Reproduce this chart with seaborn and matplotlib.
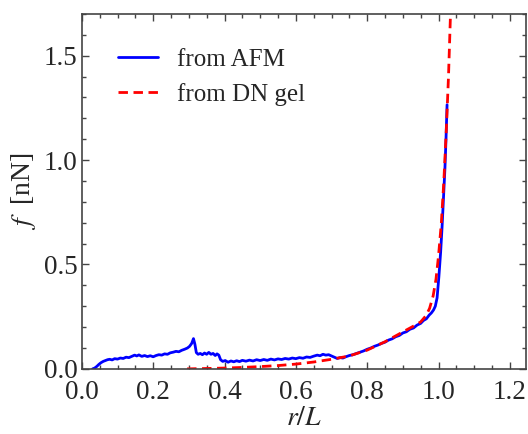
import numpy as np
import pandas as pd
import matplotlib
matplotlib.use("Agg")
import matplotlib.pyplot as plt
from matplotlib.ticker import MultipleLocator
import seaborn as sns

# donnees
afm_x = [0.030, 0.036, 0.042, 0.048, 0.054, 0.060, 0.066, 0.072, 0.078, 0.085, 0.092, 0.100,
         0.108, 0.116, 0.124, 0.132, 0.140, 0.148, 0.154, 0.160, 0.168, 0.176, 0.184, 0.192,
         0.200, 0.208, 0.216, 0.224, 0.232, 0.240, 0.248, 0.256, 0.264, 0.272, 0.280, 0.288,
         0.296, 0.302, 0.308, 0.313, 0.317, 0.321, 0.326, 0.332, 0.338, 0.344, 0.350, 0.356,
         0.362, 0.368, 0.374, 0.379, 0.384, 0.389, 0.395, 0.402, 0.410, 0.418, 0.426, 0.434,
         0.442, 0.450, 0.460, 0.470, 0.480, 0.490, 0.500, 0.510, 0.520, 0.530, 0.540, 0.550,
         0.560, 0.570, 0.580, 0.590, 0.600, 0.610, 0.620, 0.630, 0.640, 0.650, 0.660, 0.668,
         0.676, 0.684, 0.692, 0.700, 0.708, 0.716, 0.724, 0.732, 0.740, 0.750, 0.760, 0.770,
         0.780, 0.790, 0.800, 0.810, 0.820, 0.830, 0.840, 0.850, 0.860, 0.870, 0.880, 0.890,
         0.900, 0.910, 0.920, 0.930, 0.940, 0.950, 0.958, 0.966, 0.974, 0.980, 0.986, 0.991,
         0.996, 1.001, 1.006, 1.010, 1.014, 1.018, 1.021, 1.024]
afm_y = [0.000, 0.004, 0.012, 0.022, 0.030, 0.036, 0.040, 0.044, 0.046, 0.043, 0.049, 0.047,
         0.052, 0.050, 0.056, 0.054, 0.060, 0.066, 0.062, 0.067, 0.060, 0.064, 0.059, 0.063,
         0.058, 0.064, 0.068, 0.066, 0.072, 0.070, 0.077, 0.080, 0.084, 0.082, 0.089, 0.094,
         0.100, 0.108, 0.122, 0.145, 0.118, 0.078, 0.070, 0.074, 0.068, 0.076, 0.070, 0.079,
         0.070, 0.074, 0.064, 0.072, 0.066, 0.044, 0.036, 0.040, 0.032, 0.038, 0.034, 0.039,
         0.035, 0.041, 0.037, 0.042, 0.038, 0.044, 0.040, 0.045, 0.041, 0.047, 0.043, 0.048,
         0.045, 0.050, 0.047, 0.052, 0.049, 0.054, 0.051, 0.057, 0.055, 0.061, 0.066, 0.063,
         0.070, 0.066, 0.068, 0.062, 0.056, 0.050, 0.054, 0.052, 0.058, 0.064, 0.068, 0.074,
         0.080, 0.086, 0.094, 0.100, 0.108, 0.114, 0.122, 0.128, 0.138, 0.144, 0.154, 0.160,
         0.172, 0.178, 0.190, 0.196, 0.210, 0.218, 0.232, 0.240, 0.258, 0.268, 0.282, 0.300,
         0.340, 0.440, 0.560, 0.680, 0.820, 0.960, 1.100, 1.265]

dn_x = [0.295, 0.320, 0.350, 0.400, 0.450, 0.500, 0.550, 0.600, 0.650, 0.700, 0.750, 0.800,
        0.850, 0.900, 0.930, 0.950, 0.965, 0.975, 0.985, 0.993, 1.000, 1.008, 1.015, 1.022,
        1.028, 1.034]
dn_y = [0.000, 0.001, 0.002, 0.004, 0.007, 0.011, 0.016, 0.023, 0.033, 0.046, 0.062, 0.090,
        0.130, 0.177, 0.205, 0.225, 0.255, 0.290, 0.350, 0.430, 0.540, 0.700, 0.900, 1.150,
        1.400, 1.720]

sns.set_style("ticks")
plt.rcParams['font.family'] = ['Liberation Serif', 'DejaVu Serif']
plt.rcParams['mathtext.fontset'] = 'stix'

fig = plt.figure(figsize=(5.28, 4.34), dpi=100)
ax = fig.add_axes([0.155, 0.150, 0.841, 0.818])

sns.lineplot(x=afm_x, y=afm_y, ax=ax, color=(0, 0, 1), lw=2.0, sort=False,
             estimator=None, label="from AFM")
sns.lineplot(x=dn_x, y=dn_y, ax=ax, color=(1, 0, 0), lw=2.0, sort=False,
             estimator=None, label="from DN gel", dashes=False)
ax.lines[-1].set_dashes([3.4, 2.0])
ax.get_legend().remove()
leg = ax.legend(loc="upper left", frameon=False, fontsize=18, handlelength=1.6,
                borderaxespad=0.0, bbox_to_anchor=(0.06, 0.932), labelspacing=0.5,
                handletextpad=0.75)

ax.set_xlim(0, 1.245)
ax.set_ylim(0, 1.70)
ax.xaxis.set_major_locator(MultipleLocator(0.2))
ax.xaxis.set_minor_locator(MultipleLocator(0.05))
ax.yaxis.set_major_locator(MultipleLocator(0.5))
ax.yaxis.set_minor_locator(MultipleLocator(0.1))
ax.xaxis.set_major_formatter(matplotlib.ticker.FormatStrFormatter('%.1f'))
ax.yaxis.set_major_formatter(matplotlib.ticker.FormatStrFormatter('%.1f'))
ax.tick_params(which="both", direction="in", top=True, right=True, labelsize=19.5,
               color="#444444", width=1)
ax.tick_params(which="major", length=5, pad=3)
ax.tick_params(axis="x", which="major", pad=8)
ax.tick_params(which="minor", length=3)
for s in ax.spines.values():
    s.set_color("#444444")
    s.set_linewidth(1.2)

ax.set_xlabel(r"$r/L$", fontsize=20, labelpad=1)
ax.set_ylabel(r"$f$  [nN]", fontsize=20, labelpad=4)

fig.savefig("out.png", dpi=100)
